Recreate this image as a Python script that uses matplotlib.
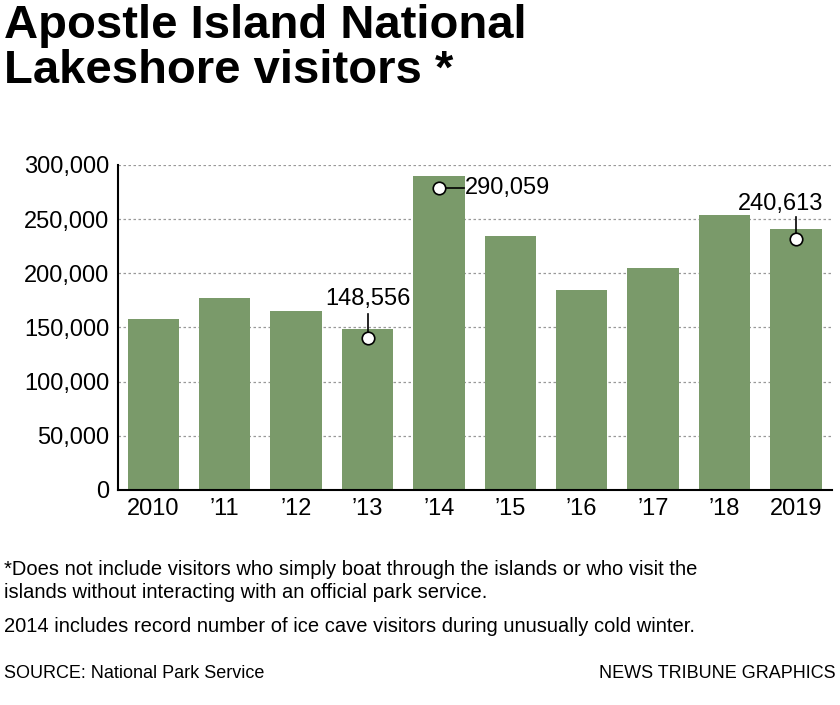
import matplotlib.pyplot as plt

years = ["2010", "\u201911", "\u201912", "\u201913", "\u201914", "\u201915", "\u201916", "\u201917", "\u201918", "2019"]
visitors = [158000, 177000, 165000, 148556, 290059, 234000, 185000, 205000, 254000, 240613]
y_ticks = [0, 50000, 100000, 150000, 200000, 250000, 300000]

fam = ["DejaVu Sans Condensed", "Liberation Sans", "DejaVu Sans"]
bar_color = "#7a9a6a"

fig = plt.figure(figsize=(8.4, 7.05), dpi=100)
ax = fig.add_axes([0.140, 0.305, 0.850, 0.461])

x = range(len(years))
ax.bar(x, visitors, width=0.72, color=bar_color, zorder=2)
ax.set_xlim(-0.5, len(years) - 0.5)
ax.set_ylim(0, 300000)
ax.set_yticks(y_ticks)
ax.set_yticklabels([f"{v:,}" for v in y_ticks], family=fam, fontsize=17)
ax.set_xticks(list(x))
ax.set_xticklabels(years, family=fam, fontsize=17)
ax.tick_params(length=0, pad=6)
ax.grid(axis="y", color="#999999", linestyle=(0, (2, 2)), linewidth=0.9, zorder=0)
for s in ["top", "right"]:
    ax.spines[s].set_visible(False)
ax.spines["left"].set_linewidth(1.5)
ax.spines["bottom"].set_linewidth(1.5)

dot = dict(marker="o", markersize=9, markerfacecolor="white", markeredgecolor="black", markeredgewidth=1.2, zorder=5)

# 2013
i = 3
ax.plot([i, i], [140000, 162000], color="black", lw=1.2, zorder=4)
ax.plot(i, 140000, **dot)
ax.text(i, 166000, f"{visitors[i]:,}", ha="center", va="bottom", family=fam, fontsize=17)
# 2014
i = 4
ax.plot([i, i + 0.35], [279000, 279000], color="black", lw=1.2, zorder=4)
ax.plot(i, 279000, **dot)
ax.text(i + 0.37, 279000, f"{visitors[i]:,}", ha="left", va="center", family=fam, fontsize=17)
# 2019
i = 9
ax.plot([i, i], [232000, 252000], color="black", lw=1.2, zorder=4)
ax.plot(i, 232000, **dot)
ax.text(i + 0.38, 254000, f"{visitors[i]:,}", ha="right", va="bottom", family=fam, fontsize=17)

fig.text(0.005, 0.995, "Apostle Island National\nLakeshore visitors *", ha="left", va="top",
         family=fam, fontsize=34, fontweight="bold", linespacing=1.05)
fig.text(0.005, 0.205, "*Does not include visitors who simply boat through the islands or who visit the\n"
         "islands without interacting with an official park service.", ha="left", va="top",
         family=fam, fontsize=14.5, linespacing=1.25)
fig.text(0.005, 0.125, "2014 includes record number of ice cave visitors during unusually cold winter.",
         ha="left", va="top", family=fam, fontsize=14.5)
fig.text(0.005, 0.045, "SOURCE: National Park Service", ha="left", va="center", family=fam, fontsize=13)
fig.text(0.995, 0.045, "NEWS TRIBUNE GRAPHICS", ha="right", va="center", family=fam, fontsize=13)

fig.savefig("out.png", dpi=100)
